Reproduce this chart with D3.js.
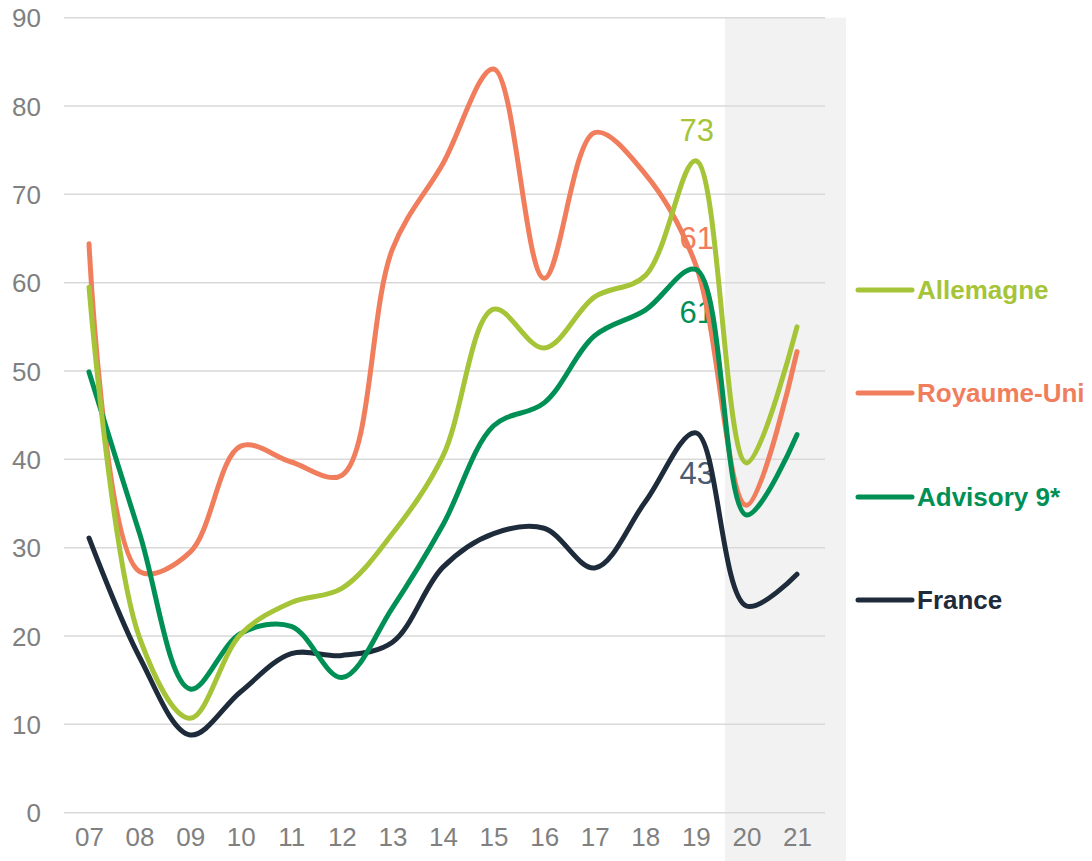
<!DOCTYPE html>
<html>
<head>
<meta charset="utf-8">
<script src="https://cdn.jsdelivr.net/npm/d3@7"></script>
<style>
  html, body { margin: 0; padding: 0; background: #fff; }
  svg { display: block; }
  text { font-family: "Liberation Sans", Arial, sans-serif; }
</style>
</head>
<body>
<svg id="chart" width="1092" height="861"></svg>
<script>
const years = ["07","08","09","10","11","12","13","14","15","16","17","18","19","20","21"];
const yTicks = [0,10,20,30,40,50,60,70,80,90];

const allemagne  = [59.5, 19.8, 10.7, 20.2, 23.8, 25.4, 31.6, 40.4, 57.0, 52.6, 58.4, 60.8, 73.8, 39.6, 55.0];
const royaumeUni = [64.4, 27.3, 29.5, 41.5, 39.7, 38.2, 63.8, 73.5, 84.2, 60.5, 77.0, 72.3, 62.0, 34.8, 52.2];
const advisory9  = [49.9, 31.6, 14.0, 20.3, 21.1, 15.3, 23.2, 32.6, 43.8, 46.4, 54.0, 56.9, 61.5, 33.7, 42.8];
const france     = [31.1, 17.6,  8.8, 13.7, 18.0, 17.8, 19.3, 27.8, 31.6, 32.2, 27.7, 35.2, 43.0, 23.4, 27.0];

const seriesNames  = ["Allemagne", "Royaume-Uni", "Advisory 9*", "France"];
const labels19     = ["73", "61", "61", "43"];

const colors = {
  "Allemagne": "#A5C437",
  "Royaume-Uni": "#F07E5D",
  "Advisory 9*": "#009055",
  "France": "#1E2B3A"
};
const labelColors = {
  "Allemagne": "#A5C437",
  "Royaume-Uni": "#F07E5D",
  "Advisory 9*": "#009055",
  "France": "#4A5A70"
};

const seriesData = {
  "Allemagne": allemagne,
  "Royaume-Uni": royaumeUni,
  "Advisory 9*": advisory9,
  "France": france
};

const svg = d3.select("#chart");

const x = d3.scaleLinear().domain([0, years.length - 1]).range([89, 797]);
const y = d3.scaleLinear().domain([0, 90]).range([812.7, 17.7]);

// shaded forecast band
svg.append("rect")
  .attr("x", 725).attr("y", y(90))
  .attr("width", 121).attr("height", 861 - y(90))
  .attr("fill", "#F2F2F2");

// gridlines
svg.append("g").selectAll("line").data(yTicks).join("line")
  .attr("x1", 64).attr("x2", 825)
  .attr("y1", d => y(d)).attr("y2", d => y(d))
  .attr("stroke", "#D9D9D9").attr("stroke-width", 1.5);

// y-axis labels
const yAxis = d3.axisLeft(y).tickValues(yTicks).tickSize(0).tickPadding(0);
const gy = svg.append("g").attr("transform", "translate(41,0)").call(yAxis);
gy.select(".domain").remove();
gy.selectAll("text")
  .attr("font-size", 26)
  .attr("fill", "#808080")
  .attr("font-family", "Liberation Sans, Arial, sans-serif")
  .attr("dy", "0.35em");

// x-axis labels
const xAxis = d3.axisBottom(x).tickValues(d3.range(years.length)).tickFormat(i => years[i]).tickSize(0).tickPadding(0);
const gx = svg.append("g").attr("transform", "translate(0,826)").call(xAxis);
gx.select(".domain").remove();
gx.selectAll("text")
  .attr("font-size", 26)
  .attr("fill", "#808080")
  .attr("font-family", "Liberation Sans, Arial, sans-serif")
  .attr("dy", "0.75em");

// data labels at 19 (drawn under lines)
const i19 = years.indexOf("19");
seriesNames.forEach((name, k) => {
  const v = seriesData[name][i19];
  let ty;
  if (name === "Allemagne") ty = y(v) - 20;
  else if (name === "Royaume-Uni") ty = y(v) - 16;
  else if (name === "Advisory 9*") ty = y(v) + 54;
  else ty = y(v) + 51;
  svg.append("text")
    .attr("x", x(i19) + 1)
    .attr("y", ty)
    .attr("text-anchor", "middle")
    .attr("font-size", 31)
    .attr("fill", labelColors[name])
    .text(labels19[k]);
});

// lines
const line = d3.line()
  .x((d, i) => x(i))
  .y(d => y(d))
  .curve(d3.curveCatmullRom.alpha(0.5));

const drawOrder = ["Royaume-Uni", "France", "Advisory 9*", "Allemagne"];
drawOrder.forEach(name => {
  svg.append("path")
    .datum(seriesData[name])
    .attr("d", line)
    .attr("fill", "none")
    .attr("stroke", colors[name])
    .attr("stroke-width", 5)
    .attr("stroke-linecap", "round")
    .attr("stroke-linejoin", "round");
});

// legend
const legendY = [290, 393, 497, 600];
const lg = svg.append("g");
seriesNames.forEach((name, k) => {
  lg.append("line")
    .attr("x1", 858).attr("x2", 912)
    .attr("y1", legendY[k]).attr("y2", legendY[k])
    .attr("stroke", colors[name])
    .attr("stroke-width", 5)
    .attr("stroke-linecap", "round");
  lg.append("text")
    .attr("x", 917).attr("y", legendY[k])
    .attr("dy", "0.36em")
    .attr("font-size", 26)
    .attr("font-weight", "bold")
    .attr("fill", colors[name])
    .text(name);
});
</script>
</body>
</html>
